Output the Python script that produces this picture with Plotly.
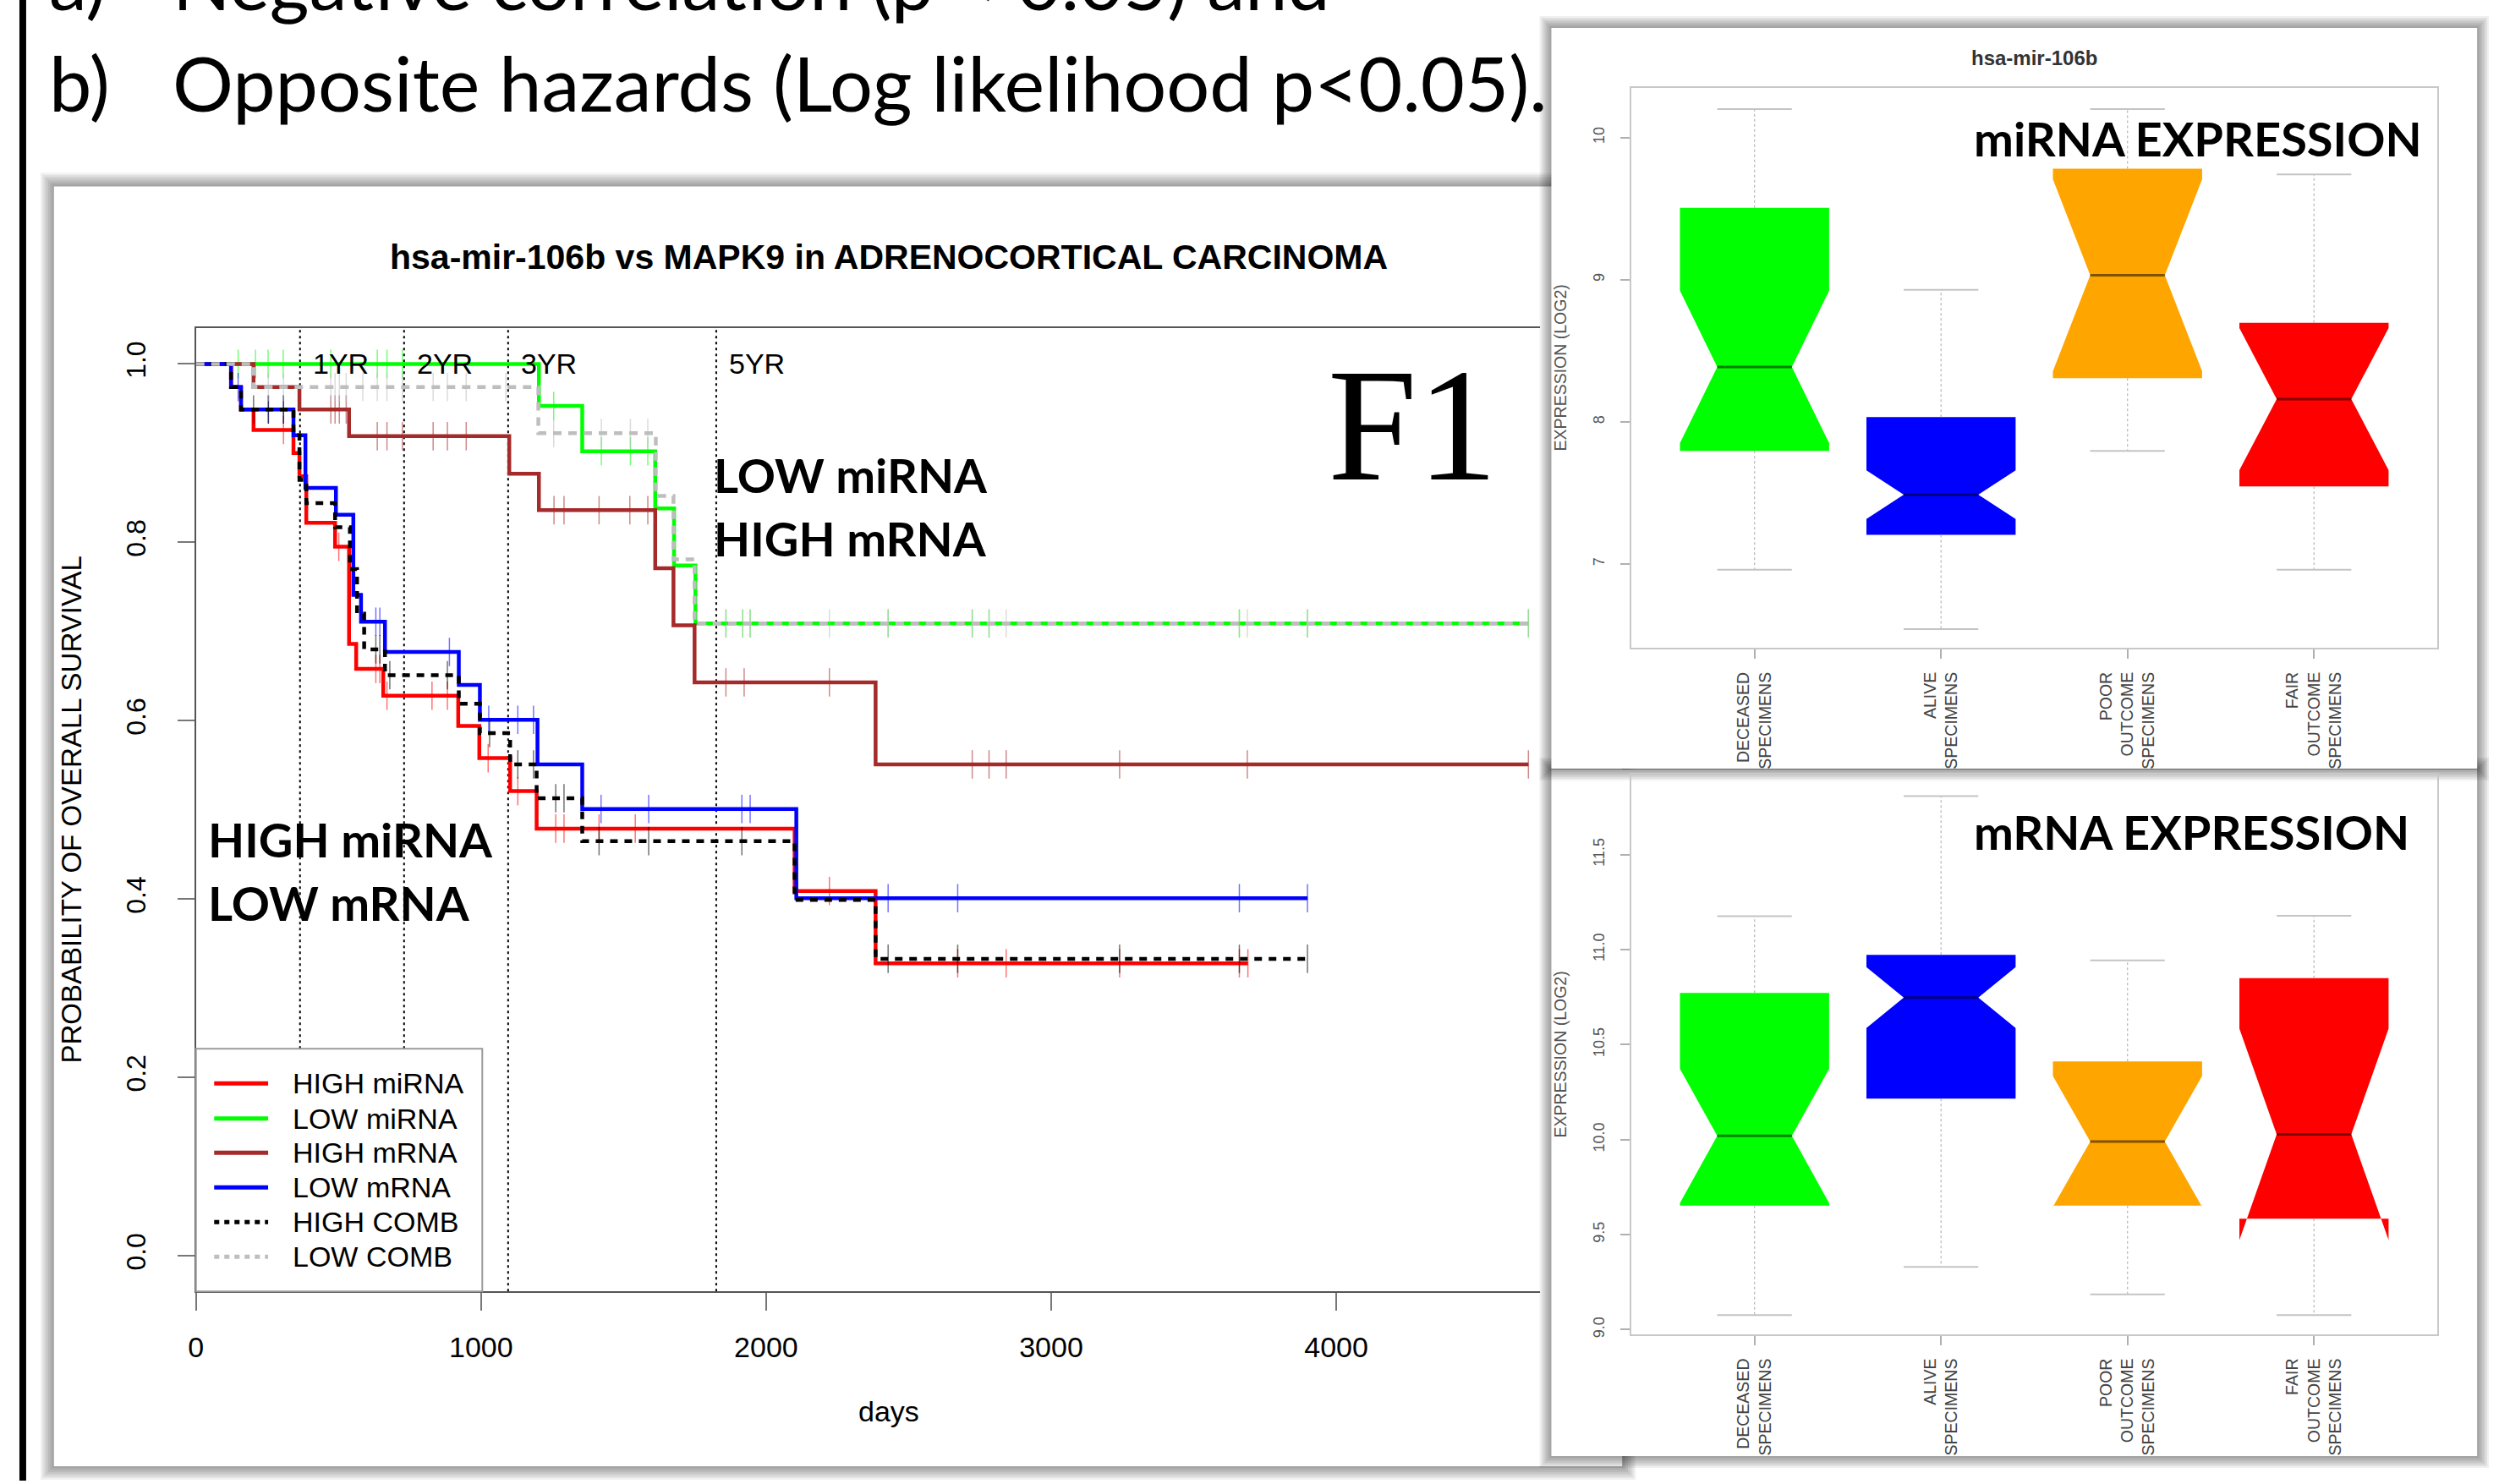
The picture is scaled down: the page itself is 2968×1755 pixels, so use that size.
import plotly.graph_objects as go

W, H = 2968, 1755

# ---------------- Kaplan-Meier data (days, survival) ----------------
red_t = [0, 123, 158, 202, 342, 363, 387, 488, 537, 562, 657, 920, 994, 1102, 1195, 2100, 2384, 3690]
red_s = [1.0, 0.974, 0.949, 0.926, 0.900, 0.874, 0.822, 0.795, 0.686, 0.658, 0.628, 0.594, 0.558, 0.521, 0.479, 0.409, 0.328, 0.328]
red_cens = [307, 501, 631, 645, 670, 828, 882, 1025, 1129, 1262, 1291, 1414, 1541, 2222, 2672, 2842, 3240, 3660, 3690]

green_t = [0, 1203, 1355, 1611, 1677, 1752, 4674]
green_s = [1.0, 0.953, 0.902, 0.838, 0.774, 0.709, 0.709]
green_cens = [148, 209, 253, 306, 473, 636, 670, 724, 1255, 1422, 1524, 1585, 1859, 1918, 1944, 2428, 2723, 2782, 3660, 3899, 4674]

brown_t = [0, 202, 363, 537, 1099, 1203, 1611, 1675, 1749, 2384, 4674]
brown_s = [1.0, 0.974, 0.949, 0.919, 0.877, 0.836, 0.771, 0.707, 0.643, 0.551, 0.551]
brown_cens = [473, 488, 503, 527, 636, 670, 724, 832, 882, 948, 1256, 1291, 1414, 1522, 1585, 1859, 1923, 2222, 2723, 2782, 2842, 3240, 3688, 4674]

blue_t = [0, 123, 158, 342, 384, 491, 552, 579, 663, 922, 996, 1198, 1355, 2106, 3899]
blue_s = [1.0, 0.974, 0.949, 0.920, 0.861, 0.831, 0.741, 0.711, 0.677, 0.640, 0.601, 0.551, 0.501, 0.401, 0.401]
blue_cens = [148, 254, 307, 631, 645, 889, 1027, 1129, 1184, 1421, 1588, 1915, 1944, 2428, 2672, 3660, 3899]

black_t = [0, 123, 158, 342, 363, 387, 488, 540, 565, 590, 663, 922, 996, 1102, 1195, 1355, 2100, 2384, 3899]
black_s = [1.0, 0.974, 0.949, 0.920, 0.870, 0.844, 0.817, 0.770, 0.720, 0.680, 0.651, 0.619, 0.586, 0.551, 0.513, 0.465, 0.399, 0.333, 0.333]
black_cens = [202, 254, 307, 631, 645, 680, 882, 1030, 1129, 1184, 1262, 1291, 1414, 1588, 1915, 2428, 2672, 3240, 3660, 3899]

grey_t = [0, 202, 1201, 1613, 1675, 1749, 4674]
grey_s = [1.0, 0.974, 0.9225, 0.852, 0.781, 0.709, 0.709]
grey_cens = [254, 307, 473, 488, 503, 527, 585, 636, 670, 724, 832, 882, 948, 1087, 1255, 1422, 1524, 1585,
             1859, 1918, 1944, 2222, 2428, 2723, 2782, 2842, 3660, 3688, 3899, 4674]

legend_names = ["HIGH miRNA", "LOW miRNA", "HIGH mRNA", "LOW mRNA", "HIGH COMB", "LOW COMB"]
year_days = [365, 730, 1095, 1825]
year_labels = ["1YR", "2YR", "3YR", "5YR"]
km_xticks = [0, 1000, 2000, 3000, 4000]
km_yticks = [0.0, 0.2, 0.4, 0.6, 0.8, 1.0]

# ---------------- box plot data ----------------
box_labels = ["DECEASED<br>SPECIMENS", "ALIVE<br>SPECIMENS",
              "POOR<br>OUTCOME<br>SPECIMENS", "FAIR<br>OUTCOME<br>SPECIMENS"]
box_colors = ["#00ff00", "#0000ff", "#ffa500", "#ff0000"]

mirna_q1 = [7.795, 7.205, 8.307, 7.546]
mirna_med = [8.386, 7.488, 9.031, 8.160]
mirna_q3 = [9.505, 8.034, 9.780, 8.696]
mirna_lo = [6.960, 6.543, 7.795, 6.960]
mirna_hi = [10.20, 8.928, 10.20, 9.740]
mirna_notch = [0.536, 0.171, 0.675, 0.500]
mirna_yticks = [7, 8, 9, 10]

mrna_q1 = [9.652, 10.215, 9.652, 9.584]
mrna_med = [10.019, 10.747, 9.990, 10.027]
mrna_q3 = [10.771, 10.972, 10.411, 10.849]
mrna_lo = [9.076, 9.330, 9.185, 9.076]
mrna_hi = [11.175, 11.807, 10.943, 11.178]
mrna_notch = [0.353, 0.160, 0.344, 0.556]
mrna_yticks = [9.0, 9.5, 10.0, 10.5, 11.0, 11.5]


# ---------------- helpers ----------------
def px(x):
    return x / W


def py(y):
    return 1 - y / H


def step_val(ts, ss, t):
    v = ss[0]
    for ti, si in zip(ts, ss):
        if ti <= t:
            v = si
        else:
            break
    return v


def rgba(hexc, a):
    h = hexc.lstrip("#")
    r, g, b = int(h[0:2], 16), int(h[2:4], 16), int(h[4:6], 16)
    return f"rgba({r},{g},{b},{a})"


SANS = "Liberation Sans, Arial, sans-serif"
CAL = "Lato, Carlito, sans-serif"

shapes = []
annotations = []


def panel(x0, y0, x1, y1, blur=14, layers=7, alpha=0.06):
    for k in range(layers, 0, -1):
        e = blur * k / layers
        shapes.append(dict(type="rect", xref="paper", yref="paper", layer="below",
                           x0=px(x0 - e), x1=px(x1 + e), y0=py(y1 + e), y1=py(y0 - e),
                           fillcolor=f"rgba(0,0,0,{alpha})", line=dict(width=0)))
    shapes.append(dict(type="rect", xref="paper", yref="paper", layer="below",
                       x0=px(x0), x1=px(x1), y0=py(y1), y1=py(y0),
                       fillcolor="white", line=dict(width=0)))


def text(x, y, s, size, family=SANS, color="black", bold=False, xanchor="center",
         angle=0, xref="paper", yref="paper", xshift=0):
    if bold:
        s = "<b>" + s + "</b>"
    annotations.append(dict(
        x=px(x) if xref == "paper" else x, y=py(y) if yref == "paper" else y,
        xref=xref, yref=yref, text=s, showarrow=False, xanchor=xanchor, yanchor="middle",
        textangle=angle, xshift=xshift, font=dict(size=size, family=family, color=color)))


# ---------------- slide background ----------------
shapes.append(dict(type="rect", xref="paper", yref="paper", layer="below",
                   x0=px(14), x1=px(22), y0=0, y1=1, fillcolor="black", line=dict(width=0)))

# panels: KM, lower box, upper box
panel(55, 221, 1915, 1738, blur=16)
panel(1831, 912, 2929, 1726, blur=14)
panel(1831, 33, 2929, 911, blur=14)

fig = go.Figure()

# ---------------- KM plot geometry ----------------
KM_L, KM_R, KM_T, KM_B = 223.4, 1818.0, 389.1, 1530.8
DAY_PX = 0.33812
km_xmax = (KM_R - KM_L) / DAY_PX

series = [
    (red_t, red_s, red_cens, "#ff0000", "solid"),
    (green_t, green_s, green_cens, "#00ff00", "solid"),
    (brown_t, brown_s, brown_cens, "#a52a2a", "solid"),
    (blue_t, blue_s, blue_cens, "#0000ff", "solid"),
    (black_t, black_s, black_cens, "#000000", "9px,8px"),
    (grey_t, grey_s, grey_cens, "#bebebe", "10px,8px"),
]

for t, s, cens, col, dash in series:
    fig.add_trace(go.Scatter(x=t, y=s, mode="lines", xaxis="x", yaxis="y",
                             line=dict(color=col, width=4.5, dash=dash, shape="hv"),
                             hoverinfo="skip", showlegend=False))
    fig.add_trace(go.Scatter(x=cens, y=[step_val(t, s, c) for c in cens], mode="markers",
                             xaxis="x", yaxis="y",
                             marker=dict(symbol="line-ns", size=24,
                                         line=dict(width=1.5, color=rgba(col, 0.55))),
                             hoverinfo="skip", showlegend=False))

# year lines
for d, lab in zip(year_days, year_labels):
    shapes.append(dict(type="line", xref="x", yref="paper", layer="below",
                       x0=d, x1=d, y0=py(KM_B), y1=py(KM_T),
                       line=dict(color="black", width=2, dash="3px,4px")))
    text(d, 1.0, lab, 34, xref="x", yref="y", xanchor="left", xshift=13)

# legend
leg_y = [1284.2, 1325.7, 1366.4, 1407.4, 1448.5, 1489.6]
shapes.append(dict(type="rect", xref="paper", yref="paper", layer="above",
                   x0=px(KM_L), x1=px(563), y0=py(KM_B), y1=py(1243),
                   fillcolor="white", line=dict(color="#9a9a9a", width=2)))
for (t, s, cens, col, dash), name, yy in zip(series, legend_names, leg_y):
    ldash = "solid" if dash == "solid" else "6px,6px"
    shapes.append(dict(type="line", xref="paper", yref="paper", layer="above",
                       x0=px(245), x1=px(309), y0=py(yy), y1=py(yy),
                       line=dict(color=col, width=5, dash=ldash)))
    text(336, yy, name, 34, xanchor="left")

# KM titles / labels
text(1045, 305, "hsa-mir-106b vs MAPK9 in ADRENOCORTICAL CARCINOMA", 41, bold=True)
text(1045, 1673, "days", 34)
text(76, 960, "PROBABILITY OF OVERALL SURVIVAL", 33, angle=-90)

text(836, 563, "LOW miRNA", 56, family=CAL, bold=True, xanchor="left")
text(836, 638, "HIGH mRNA", 56, family=CAL, bold=True, xanchor="left")
text(236, 995, "HIGH miRNA", 56, family=CAL, bold=True, xanchor="left")
text(236, 1070, "LOW mRNA", 56, family=CAL, bold=True, xanchor="left")
text(1667, 504, "F1", 190, family="Liberation Serif, Times New Roman, serif")

# ---------------- slide text ----------------
text(47, -23, "a)", 90, family=CAL, xanchor="left")
text(194, -23, "Negative correlation (p &lt; 0.05) and", 90, family=CAL, xanchor="left")
text(47, 97, "b)", 90, family=CAL, xanchor="left")
text(194, 97, "Opposite hazards (Log likelihood p&lt;0.05).", 90, family=CAL, xanchor="left")

# ---------------- box plots ----------------
BX_L, BX_R = 1926, 2881.5
BOX_W = 0.8
positions = [1, 2, 3, 4]


def add_boxes(q1, med, q3, lo, hi, notch, xa, ya):
    for i, c in enumerate(box_colors):
        fig.add_trace(go.Box(x=[positions[i]], q1=[q1[i]], median=[med[i]], q3=[q3[i]],
                             lowerfence=[lo[i]], upperfence=[hi[i]], notchspan=[notch[i]],
                             notched=True, notchwidth=0.25, width=BOX_W, fillcolor=c,
                             line=dict(width=0, color=c), boxpoints=False,
                             xaxis=xa, yaxis=ya, hoverinfo="skip", showlegend=False))
    wx, wy, cx, cy = [], [], [], []
    for i in range(4):
        p = positions[i]
        wx += [p, p, None, p, p, None]
        wy += [q3[i], hi[i], None, q1[i], lo[i], None]
        cx += [p - BOX_W / 4, p + BOX_W / 4, None, p - BOX_W / 4, p + BOX_W / 4, None]
        cy += [hi[i], hi[i], None, lo[i], lo[i], None]
    fig.add_trace(go.Scatter(x=wx, y=wy, mode="lines", xaxis=xa, yaxis=ya,
                             line=dict(color="#b4b4b4", width=1.2, dash="3px,3px"),
                             hoverinfo="skip", showlegend=False))
    fig.add_trace(go.Scatter(x=cx, y=cy, mode="lines", xaxis=xa, yaxis=ya,
                             line=dict(color="#c4c4c4", width=2),
                             hoverinfo="skip", showlegend=False))
    for i in range(4):
        p = positions[i]
        hw = BOX_W / 2 * 0.5
        fig.add_trace(go.Scatter(x=[p - hw, p + hw], y=[med[i], med[i]], mode="lines",
                                 xaxis=xa, yaxis=ya,
                                 line=dict(color="rgba(0,0,0,0.5)", width=3),
                                 hoverinfo="skip", showlegend=False))


add_boxes(mirna_q1, mirna_med, mirna_q3, mirna_lo, mirna_hi, mirna_notch, "x2", "y2")
add_boxes(mrna_q1, mrna_med, mrna_q3, mrna_lo, mrna_hi, mrna_notch, "x3", "y3")

text(2404, 69, "hsa-mir-106b", 24, bold=True, color="#333333")
text(1842, 436, "EXPRESSION (LOG2)", 19.5, color="#555555", angle=-90)
text(1842, 1250, "EXPRESSION (LOG2)", 19.5, color="#555555", angle=-90)
text(2330, 164, "miRNA EXPRESSION", 56, family=CAL, bold=True, xanchor="left")
text(2330, 986, "mRNA EXPRESSION", 56, family=CAL, bold=True, xanchor="left")

box_xaxis = dict(range=[0.34, 4.66], tickvals=positions, ticktext=box_labels, tickangle=-90,
                 ticks="outside", ticklen=11, tickcolor="#b0b0b0", tickwidth=1.5,
                 showline=True, mirror=True, linecolor="#c8c8c8", linewidth=1.5,
                 showgrid=False, zeroline=False, ticklabelstandoff=8,
                 tickfont=dict(size=19.5, family=SANS, color="#444444"))
box_yaxis = dict(tickangle=-90, ticks="outside", ticklen=11, tickcolor="#b0b0b0", tickwidth=1.5,
                 showline=True, mirror=True, linecolor="#c8c8c8", linewidth=1.5,
                 showgrid=False, zeroline=False, ticklabelstandoff=12,
                 tickfont=dict(size=18, family=SANS, color="#555555"))

fig.update_layout(
    width=W, height=H, margin=dict(l=0, r=0, t=0, b=0),
    paper_bgcolor="white", plot_bgcolor="rgba(0,0,0,0)",
    showlegend=False, boxmode="overlay",
    xaxis=dict(domain=[px(KM_L), px(KM_R)], range=[0, km_xmax], tickvals=km_xticks,
               ticks="outside", ticklen=21, tickwidth=1.5, tickcolor="#777777",
               showline=True, mirror=True, linecolor="#555555", linewidth=2,
               showgrid=False, zeroline=False, ticklabelstandoff=14,
               tickfont=dict(size=34, family=SANS, color="black"), anchor="y"),
    yaxis=dict(domain=[py(KM_B), py(KM_T)], range=[-0.04, 1.04], tickvals=km_yticks,
               ticktext=[f"{v:.1f}" for v in km_yticks], tickangle=-90,
               ticks="outside", ticklen=20, tickwidth=1.5, tickcolor="#777777",
               showline=True, mirror=False, linecolor="#555555", linewidth=2,
               showgrid=False, zeroline=False, ticklabelstandoff=25,
               tickfont=dict(size=32, family=SANS, color="black"), anchor="x"),
    xaxis2=dict(domain=[px(BX_L), px(BX_R)], anchor="y2", **box_xaxis),
    yaxis2=dict(domain=[py(768), py(104)], range=[6.41, 10.35], tickvals=mirna_yticks,
                anchor="x2", **box_yaxis),
    xaxis3=dict(domain=[px(BX_L), px(BX_R)], anchor="y3", **box_xaxis),
    yaxis3=dict(domain=[py(1581.6), py(918)], range=[8.975, 11.921], tickvals=mrna_yticks,
                ticktext=[f"{v:.1f}" for v in mrna_yticks], anchor="x3", **box_yaxis),
    shapes=shapes, annotations=annotations,
)

fig.write_html("out.html")
